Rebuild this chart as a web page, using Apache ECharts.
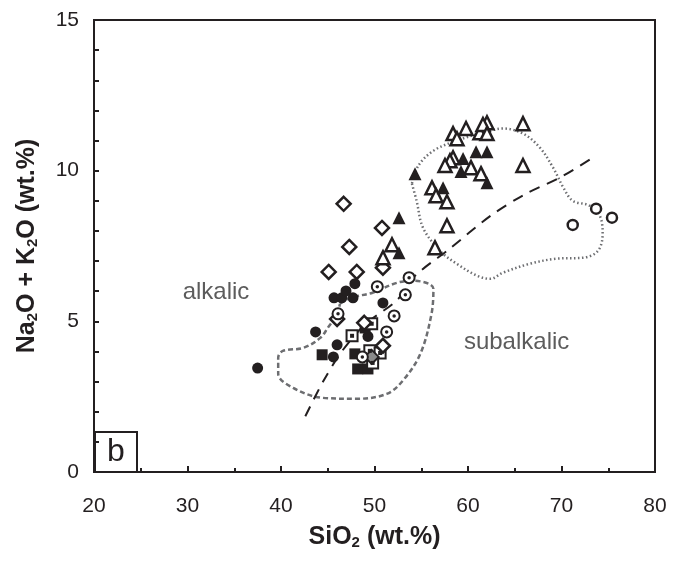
<!DOCTYPE html>
<html>
<head>
<meta charset="utf-8">
<script src="https://cdn.jsdelivr.net/npm/echarts@6/dist/echarts.min.js"></script>
<style>
html,body{margin:0;padding:0;background:#fff;}
#chart{width:688px;height:562px;}
</style>
</head>
<body>
<div id="chart"></div>
<script>
// Total alkali vs silica, panel b

// SiO2, Na2O+K2O pairs per symbol group
const filledCircles = [
  [37.5, 3.45], [43.7, 4.65], [46.0, 4.22], [45.6, 3.82], [45.67, 5.78],
  [46.5, 5.78], [47.7, 5.78], [46.95, 6.01], [47.9, 6.25], [50.9, 5.61], [49.3, 4.5]
];
const filledSquares = [
  [44.4, 3.89], [47.9, 3.92], [48.2, 3.42], [49.3, 3.42], [49.0, 4.78]
];
const dottedSquares = [
  [47.6, 4.52], [49.7, 4.92], [49.5, 4.02], [50.6, 3.95], [49.8, 3.62]
];
const openDiamonds = [
  [46.7, 8.9], [50.8, 8.1], [47.3, 7.47], [45.1, 6.64], [48.1, 6.64],
  [50.9, 6.78], [46.0, 5.08], [48.9, 4.95], [50.9, 4.19]
];
const greyDiamonds = [[49.7, 3.82]];
const dottedCircles = [
  [46.1, 5.25], [50.3, 6.15], [53.7, 6.45], [53.3, 5.88], [52.1, 5.18],
  [51.3, 4.65], [48.7, 3.82]
];
const filledTriangles = [
  [54.33, 9.90], [60.86, 10.63], [62.03, 10.63], [59.47, 10.40], [59.25, 9.97],
  [62.03, 9.60], [57.33, 9.43], [52.62, 8.44], [52.62, 7.28]
];
const openTriangles = [
  [58.40, 11.23], [58.82, 11.06], [59.79, 11.40], [61.28, 11.26], [62.03, 11.59],
  [61.60, 11.53], [62.03, 11.23], [65.88, 11.56], [58.40, 10.43], [58.07, 10.33],
  [57.54, 10.17], [60.32, 10.10], [61.39, 9.90], [65.88, 10.17], [56.15, 9.43],
  [56.58, 9.17], [57.75, 8.97], [57.75, 8.17], [56.47, 7.44], [51.87, 7.54],
  [50.91, 7.11]
];
const openCircles = [[71.2, 8.2], [73.7, 8.74], [75.4, 8.44]];

// alkalic / subalkalic dividing line
const dividerLine = [
  [42.6, 1.85], [44.5, 3.0], [46.5, 4.0], [49.0, 4.9], [52.4, 5.7], [54.3, 6.5],
  [58.0, 7.4], [62.4, 8.5], [66.0, 9.2], [70.0, 9.8], [73.2, 10.4]
];

// outline of the lower (basaltic) field
const lowerField = [
  [46.3, 5.58], [47.4, 5.78], [49.8, 5.95], [52.4, 6.28], [54.1, 6.35],
  [56.3, 6.08], [56.1, 5.25], [54.9, 3.92], [53.0, 3.02], [51.3, 2.59],
  [48.1, 2.43], [44.5, 2.46], [41.3, 2.79], [39.7, 3.26], [39.7, 3.79],
  [40.2, 4.02], [42.4, 4.12], [44.2, 4.45], [45.0, 4.78], [46.0, 5.25],
  [46.3, 5.58]
];

// outline of the upper (evolved) field
const upperField = [
  [54.0, 9.57], [54.5, 9.0], [55.2, 8.1], [57.0, 7.34], [58.8, 6.91],
  [61.0, 6.51], [62.4, 6.41], [63.7, 6.61], [66.6, 6.91], [69.5, 7.08],
  [72.3, 7.11], [73.9, 7.34], [74.4, 7.91], [74.1, 8.5], [73.0, 8.84],
  [71.2, 9.0], [70.2, 9.44], [69.1, 10.1], [67.7, 10.76], [65.9, 11.23],
  [63.7, 11.4], [62.4, 11.33], [58.8, 11.0], [56.3, 10.66], [54.7, 10.17],
  [54.0, 9.57]
];

const fieldLabels = [
  { name: 'alkalic', value: [33.05, 5.95] },
  { name: 'subalkalic', value: [65.2, 4.3] }
];
const panelLetter = 'b';

const INK = '#231f20';
const GREY = '#6d6e71';
const FONT = '"Liberation Sans", Arial, sans-serif';

function scatter(data, symbol, size, fill, stroke, width, z) {
  return {
    type: 'scatter', data: data, symbol: symbol, symbolSize: size,
    itemStyle: { color: fill, borderColor: stroke, borderWidth: width, opacity: 1 },
    z: z || 5, silent: true, animation: false
  };
}

const chart = echarts.init(document.getElementById('chart'), null, { renderer: 'canvas' });

chart.setOption({
  backgroundColor: '#fff',
  animation: false,
  grid: { left: 94, right: 33, top: 20, bottom: 90, show: true, borderColor: INK, borderWidth: 2, backgroundColor: 'transparent' },
  xAxis: {
    type: 'value', min: 20, max: 80, interval: 10,
    axisLine: { show: true, lineStyle: { color: INK, width: 2 } },
    axisTick: { show: true, inside: true, length: 6, lineStyle: { color: INK, width: 2 } },
    minorTick: { show: true, splitNumber: 2, length: 4, lineStyle: { color: INK, width: 2 } },
    splitLine: { show: false },
    axisLabel: { color: INK, fontSize: 21, fontFamily: FONT, margin: 24 },
    name: '{t|SiO}{s|2}{t| (wt.%)}',
    nameLocation: 'middle', nameGap: 52,
    nameTextStyle: {
      rich: {
        t: { fontSize: 25, fontWeight: 'bold', color: INK, fontFamily: FONT },
        s: { fontSize: 15, fontWeight: 'bold', color: INK, fontFamily: FONT, padding: [11, 0, 0, 0] }
      }
    }
  },
  yAxis: {
    type: 'value', min: 0, max: 15, interval: 5,
    axisLine: { show: true, lineStyle: { color: INK, width: 2 } },
    axisTick: { show: true, inside: true, length: 5, lineStyle: { color: INK, width: 2 } },
    minorTick: { show: true, splitNumber: 5, length: 5, lineStyle: { color: INK, width: 2 } },
    splitLine: { show: false },
    axisLabel: { color: INK, fontSize: 21, fontFamily: FONT, margin: 15 },
    name: '{t|Na}{s|2}{t|O + K}{s|2}{t|O (wt.%)}',
    nameLocation: 'middle', nameGap: 54, nameRotate: 90,
    nameTextStyle: {
      rich: {
        t: { fontSize: 25, fontWeight: 'bold', color: INK, fontFamily: FONT },
        s: { fontSize: 15, fontWeight: 'bold', color: INK, fontFamily: FONT, padding: [11, 0, 0, 0] }
      }
    }
  },
  series: [
    {
      type: 'line', data: upperField, smooth: 0.35, symbol: 'none', silent: true,
      lineStyle: { color: GREY, width: 2.5, type: [1.5, 2.5] }, z: 1
    },
    {
      type: 'line', data: lowerField, smooth: 0.35, symbol: 'none', silent: true,
      lineStyle: { color: GREY, width: 2.5, type: [5, 3] }, z: 1
    },
    {
      type: 'line', data: dividerLine, smooth: 0.3, symbol: 'none', silent: true,
      lineStyle: { color: INK, width: 2, type: [11, 8] }, z: 2
    },
    scatter(filledCircles, 'circle', 11, INK, INK, 0),
    scatter(filledSquares, 'rect', 11, INK, INK, 0),
    scatter(dottedSquares, 'rect', 11, '#fff', INK, 2),
    scatter(dottedSquares, 'rect', 4, INK, INK, 0, 6),
    scatter(openDiamonds, 'diamond', 14, '#fff', INK, 2.5),
    scatter(greyDiamonds, 'diamond', 14, '#8a8a8a', INK, 2),
    scatter(dottedCircles, 'circle', 11, '#fff', INK, 2),
    scatter(dottedCircles, 'circle', 3.5, INK, INK, 0, 6),
    scatter(openTriangles, 'triangle', 13, '#fff', INK, 2.5),
    scatter(filledTriangles, 'triangle', 13, INK, INK, 0, 6),
    scatter(openCircles, 'circle', 10, '#fff', INK, 2.5),
    {
      type: 'scatter', data: fieldLabels, symbolSize: 0, silent: true, z: 7,
      label: {
        show: true, position: 'inside', formatter: '{b}',
        color: '#333', fontSize: 24, fontFamily: FONT
      }
    }
  ],
  graphic: [
    {
      type: 'group', left: 94, top: 431, z: 10,
      children: [
        { type: 'rect', shape: { x: 0, y: 0, width: 42, height: 40 }, style: { fill: '#fff', stroke: INK, lineWidth: 2 } },
        { type: 'text', x: 21, y: 20, style: { text: panelLetter, font: '32px ' + FONT, fill: INK, align: 'center', verticalAlign: 'middle' } }
      ]
    }
  ]
});
</script>
</body>
</html>
